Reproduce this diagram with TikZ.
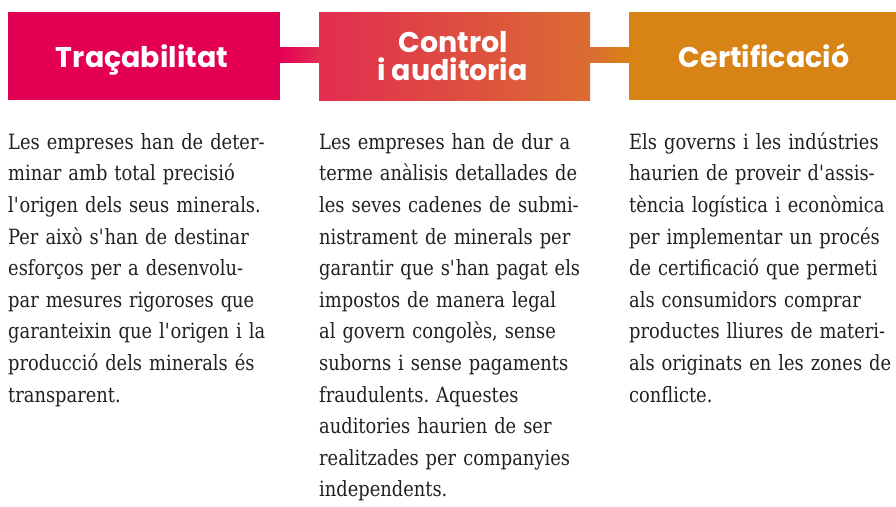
\documentclass[tikz,border=0pt]{standalone}
\usepackage{fontspec}
\usetikzlibrary{calc}
\newfontfamily\headfont{Poppins}
\newfontfamily\bodyfont{DejaVu Serif}[FakeStretch=0.85]
\definecolor{cA}{RGB}{227,0,83}
\definecolor{cB}{RGB}{225,45,80}
\definecolor{cC}{RGB}{219,108,50}
\definecolor{cD}{RGB}{215,131,22}
\definecolor{bodytext}{RGB}{35,31,32}
\newcommand{\ap}{\textquotesingle}
\frenchspacing
\tikzset{
  hbox/.style={rectangle, draw=none, inner sep=0pt, minimum height=88pt},
  htext/.style={font=\headfont\bfseries\fontsize{28.5}{28}\selectfont, text=white, inner sep=0pt, anchor=base},
  bar/.style={draw=none},
  coltext/.style={font=\bodyfont\fontsize{21}{31.6}\selectfont\frenchspacing, text=bodytext, inner sep=0pt,
    anchor=north west, text width=300pt, align=left}
}
\begin{document}
\begin{tikzpicture}[x=1pt,y=-1pt]
\useasboundingbox (0,0) rectangle (896,506);
% header boxes
\node[hbox, fill=cA, minimum width=272pt] (b1) at (144,56) {};
\node[hbox, left color=cB, right color=cC, minimum width=271pt] (b2) at (454.5,56) {};
\node[hbox, fill=cD, minimum width=267pt] (b3) at (762.5,56) {};
% connector bars
\fill[bar, left color=cA, right color=cB] ($(b1.east)+(-0.2,-8.5)$) rectangle ($(b2.west)+(0.2,6.5)$);
\fill[bar, left color=cC, right color=cD] ($(b2.east)+(-0.2,-8.5)$) rectangle ($(b3.west)+(0.2,6.5)$);
% header texts
\node[htext] (t1) at (142,67.5) {Traçabilitat};
\node[htext] (t2a) at (453.5,52) {Control};
\node[htext] (t2b) at (452.5,80) {i auditoria};
\node[htext] (t3) at (764,67.5) {Certificació};
% column texts
\node[coltext] (c1) at (8,129) {\rule{0pt}{20pt}Les empreses han de deter-\\
minar amb total precisió\\
l\ap{}origen dels seus minerals.\\
Per això s\ap{}han de destinar\\
esforços per a desenvolu-\\
par mesures rigoroses que\\
garanteixin que l\ap{}origen i la\\
producció dels minerals és\\
transparent.};
\node[coltext] (c2) at (319,129) {\rule{0pt}{20pt}Les empreses han de dur a\\
terme anàlisis detallades de\\
les seves cadenes de submi-\\
nistrament de minerals per\\
garantir que s\ap{}han pagat els\\
impostos de manera legal\\
al govern congolès, sense\\
suborns i sense pagaments\\
fraudulents. Aquestes\\
auditories haurien de ser\\
realitzades per companyies\\
independents.};
\node[coltext] (c3) at (629,129) {\rule{0pt}{20pt}Els governs i les indústries\\
haurien de proveir d\ap{}assis-\\
tència logística i econòmica\\
per implementar un procés\\
de certificació que permeti\\
als consumidors comprar\\
productes lliures de materi-\\
als originats en les zones de\\
conflicte.};
\end{tikzpicture}
\end{document}
